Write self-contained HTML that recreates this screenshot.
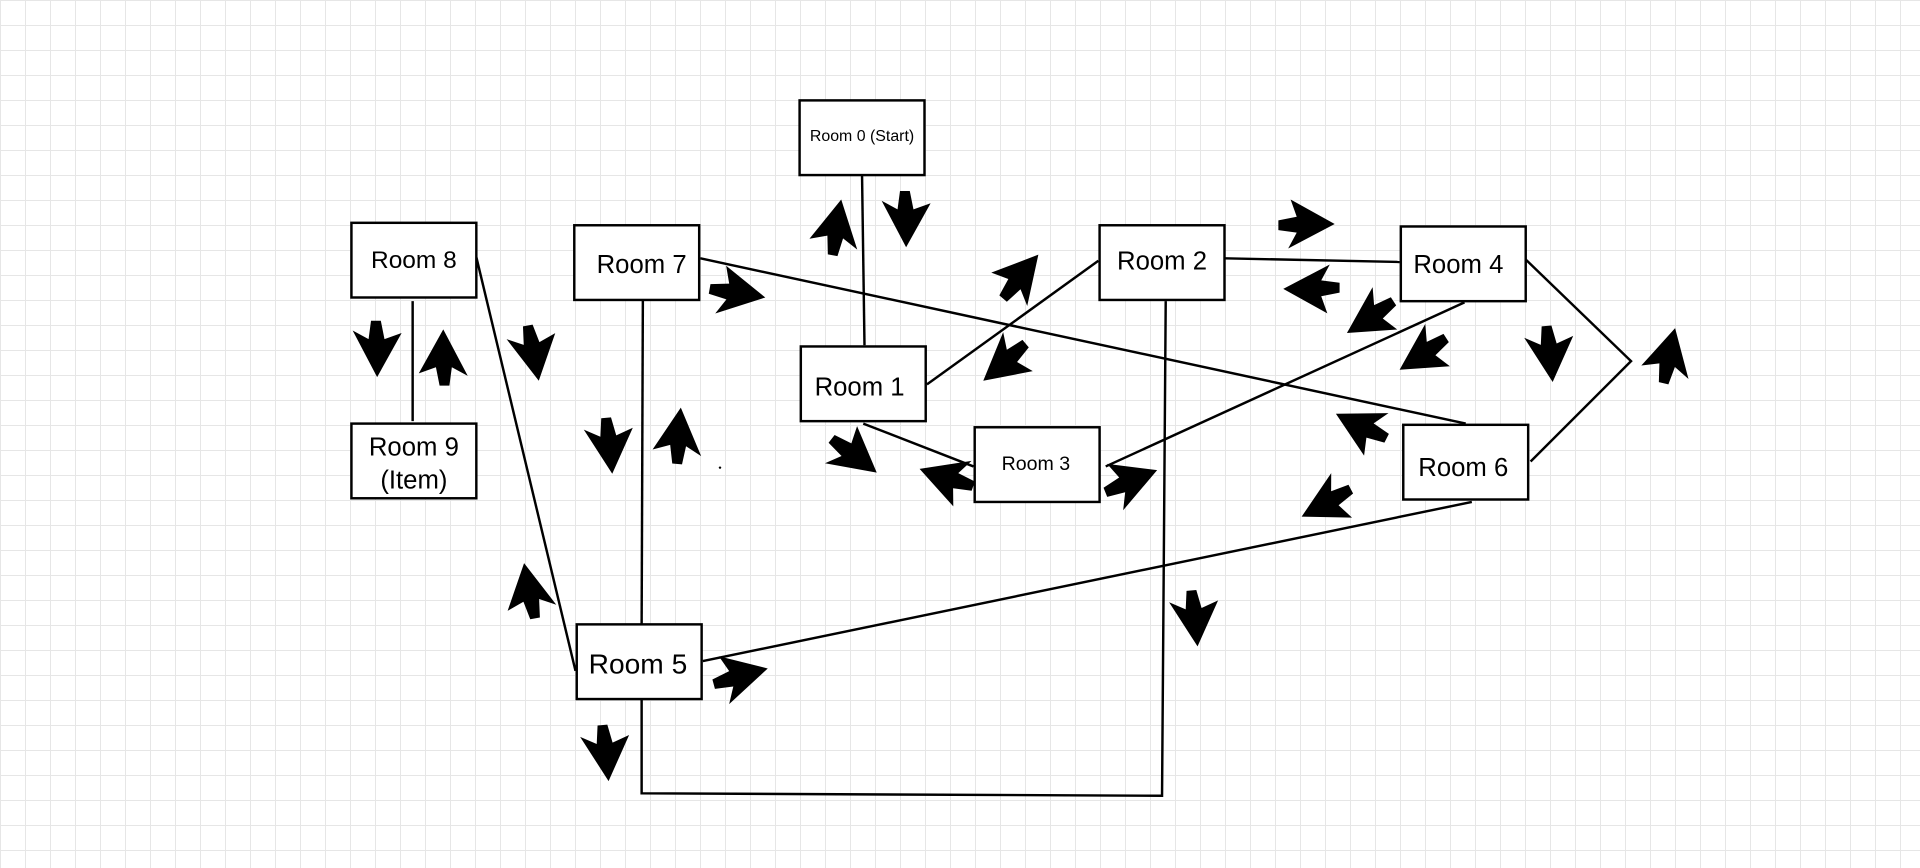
<!DOCTYPE html>
<html><head><style>
html,body{margin:0;padding:0;background:#fff;}
body{width:1920px;height:868px;overflow:hidden;
background-image:linear-gradient(#e6e6e6 1px,transparent 1px),linear-gradient(90deg,#e6e6e6 1px,transparent 1px);
background-size:25px 25px;}
svg{position:absolute;left:0;top:0;}
text{font-family:"Liberation Sans",sans-serif;fill:#000;text-anchor:middle;}
</style></head><body>
<svg width="1920" height="868" viewBox="0 0 1568 709" preserveAspectRatio="none">
<defs>
<path id="a" d="M0,0 L20,38 L7,31 L5,46 L-3,46 L-6,31 L-20,36 Z" fill="#000"/>
</defs>
<g stroke="#000" stroke-width="2" fill="none">
<line x1="704" y1="143" x2="706" y2="282"/>
<line x1="337" y1="246" x2="337" y2="344"/>
<line x1="389" y1="210" x2="470" y2="548"/>
<line x1="572" y1="211" x2="1197" y2="346"/>
<line x1="525" y1="245" x2="524" y2="510"/>
<line x1="757" y1="314" x2="897" y2="213"/>
<line x1="705" y1="346" x2="795" y2="381"/>
<line x1="1000" y1="211" x2="1143" y2="214"/>
<line x1="1196" y1="247" x2="903" y2="381"/>
<polyline points="952,246 949,650 524,648 524,571"/>
<polyline points="1246,212 1332,295 1250,377"/>
<line x1="1202" y1="410" x2="574" y2="540"/>
<rect x="653" y="82" width="102" height="61" fill="#fff"/>
<rect x="287" y="182" width="102" height="61" fill="#fff"/>
<rect x="469" y="184" width="102" height="61" fill="#fff"/>
<rect x="898" y="184" width="102" height="61" fill="#fff"/>
<rect x="1144" y="185" width="102" height="61" fill="#fff"/>
<rect x="654" y="283" width="102" height="61" fill="#fff"/>
<rect x="796" y="349" width="102" height="61" fill="#fff"/>
<rect x="1146" y="347" width="102" height="61" fill="#fff"/>
<rect x="287" y="346" width="102" height="61" fill="#fff"/>
<rect x="471" y="510" width="102" height="61" fill="#fff"/>
</g>
<circle cx="588" cy="382" r="1" fill="#000"/>
<text x="704" y="115" font-size="13">Room 0 (Start)</text>
<text x="338" y="219" font-size="20">Room 8</text>
<text x="524" y="223" font-size="21">Room 7</text>
<text x="949" y="220" font-size="21">Room 2</text>
<text x="1191" y="223" font-size="21">Room 4</text>
<text x="702" y="323" font-size="21">Room 1</text>
<text x="846" y="384" font-size="16">Room 3</text>
<text x="1195" y="389" font-size="21">Room 6</text>
<text x="338" y="372" font-size="21">Room 9</text>
<text x="338" y="399" font-size="21">(Item)</text>
<text x="521" y="550" font-size="23">Room 5</text>
<use href="#a" transform="translate(687,163) rotate(10)"/>
<use href="#a" transform="translate(740,202) rotate(180)"/>
<use href="#a" transform="translate(848,208) rotate(40)"/>
<use href="#a" transform="translate(803,311) rotate(-130)"/>
<use href="#a" transform="translate(625,243) rotate(100)"/>
<use href="#a" transform="translate(308,308) rotate(180)"/>
<use href="#a" transform="translate(362,269) rotate(0)"/>
<use href="#a" transform="translate(440,311) rotate(170)"/>
<use href="#a" transform="translate(428,460) rotate(-10)"/>
<use href="#a" transform="translate(500,387) rotate(175)"/>
<use href="#a" transform="translate(556,333) rotate(5)"/>
<use href="#a" transform="translate(716,386) rotate(128)"/>
<use href="#a" transform="translate(751,383) rotate(-71)"/>
<use href="#a" transform="translate(945,384) rotate(68)"/>
<use href="#a" transform="translate(1090,183) rotate(90)"/>
<use href="#a" transform="translate(1048,236) rotate(-90)"/>
<use href="#a" transform="translate(1100,272) rotate(-123)"/>
<use href="#a" transform="translate(1143,302) rotate(-123)"/>
<use href="#a" transform="translate(1268,312) rotate(175)"/>
<use href="#a" transform="translate(1368,268) rotate(13)"/>
<use href="#a" transform="translate(1091,338) rotate(-63)"/>
<use href="#a" transform="translate(1063,422) rotate(-118)"/>
<use href="#a" transform="translate(978,528) rotate(175)"/>
<use href="#a" transform="translate(627,546) rotate(75)"/>
<use href="#a" transform="translate(497,638) rotate(175)"/>
</svg>
</body></html>
